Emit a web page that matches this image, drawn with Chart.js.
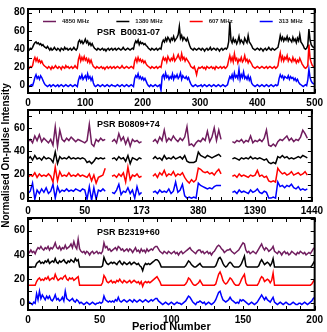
<!DOCTYPE html>
<html>
<head>
<meta charset="utf-8">
<script src="https://cdn.jsdelivr.net/npm/chart.js@4.4.1/dist/chart.umd.min.js"></script>
<style>
    html, body { margin: 0; padding: 0; background: #fff; }
    #wrap { position: relative; width: 327px; height: 332px; overflow: hidden; }
    canvas { position: absolute; left: 0; }
</style>
</head>
<body>
<div id="wrap">
    <canvas id="c1" width="327" height="106" style="top:0px"></canvas>
    <canvas id="c2" width="327" height="152" style="top:76px"></canvas>
    <canvas id="c3" width="327" height="128" style="top:204px"></canvas>
</div>
<script>
// ---- series names / colours ----
const freqLabels = ['4850 MHz', '1380 MHz', '607 MHz', '313 MHz'];
const freqColors = ['#701c5e', '#000000', '#ff0000', '#0000ff'];

// ---- PSR B0031-07 : one value every 2 periods, 0..500 ----
const p1Step = 2;
const p1Black = [
    40,39,41,40,42,45,47,48,46,47,45,46,44,45,43,42,41,43,41,39,41,39,40,42,40,
    39,41,40,38,41,40,39,42,40,41,39,40,41,39,40,42,40,39,41,48,50,47,49,46,48,
    51,47,49,45,47,44,46,43,41,40,39,41,40,39,40,41,39,40,38,40,41,39,40,41,39,
    40,41,39,40,41,40,39,40,42,40,39,40,41,40,39,40,41,40,46,49,47,50,45,48,46,
    47,45,46,44,43,41,40,39,41,40,39,40,41,39,40,41,40,47,50,48,52,49,53,51,48,
    52,50,54,49,51,53,56,65,52,55,50,53,51,49,52,48,44,41,40,39,41,40,39,40,41,
    40,39,41,40,38,40,41,39,40,42,39,40,41,40,39,41,40,38,40,41,39,40,41,40,42,
    48,70,50,47,52,48,50,46,49,54,47,50,48,46,52,49,47,55,48,46,44,41,40,39,40,
    41,40,39,41,40,38,40,41,39,40,42,40,39,41,40,39,40,41,42,48,55,50,53,49,52,
    50,54,49,52,50,48,53,49,51,47,52,49,56,48,46,44,41,40,41,44,62,50,45,43,42,
    41
];
const p1Red = [
    20,19,21,20,22,28,31,27,30,26,28,25,27,24,22,21,20,19,21,20,18,21,19,20,22,
    20,19,21,20,18,21,20,19,22,20,21,19,20,21,19,20,22,20,19,29,33,27,31,28,32,
    28,30,26,29,25,28,24,21,20,19,21,20,19,20,21,19,20,18,20,21,19,20,21,19,20,
    21,19,20,21,20,19,20,22,20,19,20,21,20,19,20,21,20,19,27,30,26,31,27,29,26,
    28,25,27,24,22,21,20,19,21,20,19,20,21,19,20,21,20,27,31,28,30,26,32,29,27,
    30,28,33,27,29,31,34,30,28,35,29,31,27,30,28,26,24,21,20,19,21,17,12,18,20,
    19,20,21,19,20,18,21,20,19,20,21,19,20,18,21,20,19,20,21,19,20,21,19,20,22,
    28,33,27,31,26,35,28,30,25,29,27,31,26,28,33,27,29,25,28,26,24,21,20,19,20,
    21,20,19,20,21,20,19,20,21,19,20,21,20,19,20,21,19,20,22,30,36,28,32,27,31,
    29,33,27,30,28,26,31,27,29,25,28,26,30,27,24,22,20,19,20,22,45,30,25,22,21,
    20
];
const p1Blue = [
    0,-1,0,1,0,4,9,12,8,10,7,11,9,6,3,1,0,-1,0,1,-1,0,1,0,-1,
    0,1,-1,0,1,0,-1,0,1,0,-1,0,1,0,-1,0,1,0,-1,6,10,8,12,7,9,
    11,7,13,8,10,6,9,3,0,-1,0,1,0,-1,0,1,0,-1,0,1,0,-1,0,1,0,
    0,-1,0,1,0,-1,0,1,0,-1,0,1,0,-1,0,1,0,-1,8,11,9,13,8,10,7,
    9,6,8,5,2,0,-1,1,0,-1,0,1,0,-1,0,1,-5,10,12,8,14,9,11,7,10,
    8,13,7,11,9,12,8,10,14,7,11,9,8,10,7,9,5,2,0,-1,0,1,0,-1,0,
    0,1,-1,0,1,0,-1,0,1,0,-1,0,1,0,-1,0,1,0,-1,0,1,0,-1,0,1,
    6,10,8,12,7,14,9,11,8,18,7,12,9,15,8,10,7,11,6,9,3,1,0,-1,0,
    1,0,-1,0,1,0,-1,0,1,0,-1,0,1,0,-1,0,1,0,1,8,12,9,11,7,10,
    9,8,11,7,10,8,9,6,8,5,7,4,2,1,0,-1,0,1,0,6,18,9,5,3,2,
    2
];

// ---- PSR B0809+74 : broken axis, 4 segments, one value every 2 units ----
const p2SegStarts = [0, 74, 110, 180];
const p2SegLengths = [35, 14, 31, 34];
const p2TickLabels = ['0', '50', '173', '380', '1390', '1440'];
const p2Purple = [
    48,50,47,53,49,54,48,51,49,47,50,45,61,44,58,50,48,51,49,52,50,48,50,49,48,47,49,63,46,44,50,48,51,49,50,
    48,50,47,55,49,52,46,51,44,50,48,49,47,48,
    48,50,47,52,49,58,48,51,49,53,50,48,51,49,52,61,45,46,44,47,49,48,51,49,57,48,52,60,49,58,50,
    48,47,49,48,50,47,49,48,53,47,49,48,50,48,51,58,45,44,46,44,48,50,49,51,53,49,51,48,50,49,52,58,55,51
];
const p2Black = [
    33,35,32,36,33,34,32,35,33,34,33,30,39,29,35,33,34,33,35,33,34,33,34,33,34,33,30,31,29,31,34,33,34,33,34,
    33,34,32,35,33,34,31,36,29,34,33,32,34,33,
    33,35,33,34,32,36,33,34,33,35,33,34,35,33,36,31,30,30,30,31,39,36,35,34,36,35,34,35,36,37,35,
    33,34,33,32,34,33,34,33,35,33,34,33,34,33,32,33,30,29,30,29,35,34,36,34,35,33,34,33,34,35,34,36,35,34
];
const p2Red = [
    17,19,18,21,17,20,18,19,18,20,18,13,26,14,22,18,19,18,21,18,19,18,20,18,19,18,17,20,14,19,12,17,18,19,25,
    18,19,17,20,18,21,13,26,15,19,18,20,17,18,
    18,20,17,21,19,23,18,20,19,22,18,20,19,21,17,14,12,15,13,15,25,24,22,21,22,20,21,19,22,24,20,
    18,19,17,20,18,19,18,17,19,18,19,23,18,19,17,18,14,13,14,13,25,22,20,21,19,20,22,19,20,21,19,20,22,19
];
const p2Blue = [
    3,5,12,-2,6,3,7,4,8,3,5,11,-1,9,4,6,5,7,5,6,5,7,6,5,7,6,-2,9,-3,8,-2,6,5,7,5,
    4,3,6,11,2,5,4,8,3,6,-1,9,2,4,
    4,5,3,6,4,5,4,7,3,5,13,4,6,11,1,-1,0,-1,0,-1,12,10,9,8,7,8,7,9,10,10,10,
    4,5,3,6,4,5,4,3,6,4,5,7,4,3,5,4,-1,-1,0,-1,13,9,10,8,10,9,11,8,7,9,6,7,6,7
];

// ---- PSR B2319+60 : periods 0..200 ----
const p3Step = 1;
const p3Purple = [
    43,42,44,42,43,41,44,46,45,47, 45,44,46,45,47,44,46,45,47,50,
    46,45,47,44,46,45,48,45,46,47, 49,46,51,47,45,53,45,43,42,43,
    41,43,42,40,42,43,41,42,43,41, 42,41,43,50,46,47,44,45,43,44,
    45,46,44,47,46,44,45,43,44,45, 43,45,44,42,44,46,43,44,42,45,
    43,44,42,45,43,44,45,44,46,47, 47,45,43,42,41,43,42,41,43,42,
    41,42,43,41,42,40,42,43,41,42, 43,44,45,46,44,43,42,41,43,44,
    44,42,43,41,42,43,41,42,40,42, 43,45,47,48,47,45,44,42,43,44,
    44,45,43,42,41,42,43,44,46,48, 50,49,44,42,43,41,42,43,42,41,
    43,45,47,49,46,44,46,45,43,44, 45,47,43,42,41,43,42,40,42,43,
    41,42,40,41,43,42,41,40,42,41, 43,42,41,42,40,41,42,41,43,45,
    46
];
const p3Black = [
    30,30,30,30,30,30,33,34,35,33, 34,33,35,34,36,33,34,35,34,37,
    34,33,35,34,35,36,34,33,35,34, 36,35,34,37,35,36,30,30,30,30,
    30,30,30,30,30,30,30,30,30,30, 30,30,31,38,35,33,32,33,34,33,
    34,33,32,34,35,33,32,34,33,32, 33,34,32,33,34,33,32,33,31,30,
    27,31,33,32,33,32,33,34,35,36, 36,35,33,30,30,30,30,30,30,30,
    30,30,30,30,30,30,30,30,30,30, 31,33,35,34,32,31,30,30,31,32,
    33,31,30,30,30,30,30,30,30,30, 30,31,34,37,38,36,33,31,30,31,
    33,34,33,31,30,30,30,30,31,33, 36,39,31,30,30,30,30,30,30,30,
    30,31,34,36,34,32,33,34,33,31, 33,37,30,30,30,30,30,30,30,30,
    30,30,30,30,30,30,30,30,30,30, 30,30,30,30,30,30,30,30,31,33,
    35
];
const p3Red = [
    15,15,15,15,15,15,18,20,21,19, 20,19,21,20,22,19,20,21,20,24,
    21,19,20,21,20,22,23,20,19,21, 20,21,19,20,21,22,15,15,15,15,
    15,15,15,15,15,15,15,15,15,15, 15,15,17,23,21,18,17,18,19,17,
    18,17,19,18,20,18,17,19,18,17, 18,19,17,18,19,18,17,18,16,18,
    14,17,18,17,18,17,18,19,20,21, 22,20,18,15,15,15,15,15,15,15,
    15,15,15,15,15,15,15,15,15,15, 16,18,21,20,18,16,15,15,16,17,
    19,17,15,15,15,15,15,15,15,15, 15,16,20,24,26,23,19,17,16,17,
    19,21,20,18,16,15,15,15,17,20, 22,24,17,15,15,15,15,15,15,15,
    15,17,20,22,21,18,19,20,19,17, 19,25,15,15,15,15,15,15,15,15,
    15,15,15,15,15,15,15,15,15,15, 15,15,15,15,15,15,15,15,16,18,
    20
];
const p3Blue = [
    0,1,0,-1,1,0,8,3,10,4, 7,5,3,6,4,6,3,2,4,7,
    3,4,2,3,5,2,10,4,3,2, 3,4,2,1,3,2,0,1,0,-1,
    0,1,0,-1,0,1,0,-1,0,0, 1,0,1,6,3,2,1,2,1,2,
    1,3,2,5,2,1,2,3,2,1, 2,3,2,1,3,2,1,2,3,2,
    1,2,3,2,1,2,3,2,3,4, 4,2,1,0,-1,0,1,0,-1,0,
    1,0,-1,0,1,0,0,-1,0,1, 2,4,6,5,3,1,0,-1,1,1,
    2,1,0,1,-1,0,1,0,-1,0, 1,3,6,9,10,6,3,2,1,2,
    3,5,3,2,1,0,1,0,3,2, 3,2,1,0,-1,0,1,0,-1,0,
    1,3,5,7,5,3,5,3,2,1, 3,5,1,0,-1,0,1,0,-1,0,
    1,0,-1,-1,0,1,0,-1,-1,0, 0,-1,0,1,0,-1,0,1,2,4,
    5
];

Chart.defaults.font.family = '"Liberation Sans", Arial, sans-serif';
Chart.defaults.color = '#000';

function stepPoints(vals, step) {
    return vals.map((v, i) => ({x: i * step, y: v}));
}

function segPoints(vals) {
    const pts = [];
    let k = 0;
    p2SegStarts.forEach((s, j) => {
        for (let i = 0; i < p2SegLengths[j]; i++) pts.push({x: s + 2 * i, y: vals[k++]});
        pts.push({x: s + 2 * p2SegLengths[j], y: null});
    });
    return pts;
}

function series(idx, data) {
    return {label: freqLabels[idx], data: data, borderColor: freqColors[idx], borderWidth: 1.5,
            pointRadius: 0, tension: 0, fill: false};
}

// frame, inward ticks, pulsar name and (first panel) legend inside the box
const framePlugin = {
    id: 'frame',
    afterDatasetsDraw(chart) {
        const {ctx, chartArea: a, scales: {x, y}} = chart;
        const o = chart.options.plugins.frame;
        ctx.save();
        ctx.strokeStyle = '#000';
        ctx.lineWidth = 1;
        ctx.beginPath();
        x.ticks.forEach(t => {
            const px = Math.round(x.getPixelForValue(t.value)) + 0.5;
            ctx.moveTo(px, a.bottom); ctx.lineTo(px, a.bottom - 4);
            ctx.moveTo(px, a.top); ctx.lineTo(px, a.top + 4);
        });
        y.ticks.forEach(t => {
            const py = Math.round(y.getPixelForValue(t.value)) + 0.5;
            ctx.moveTo(a.left, py); ctx.lineTo(a.left + 4, py);
            ctx.moveTo(a.right, py); ctx.lineTo(a.right - 4, py);
        });
        ctx.stroke();
        ctx.lineWidth = 2;
        ctx.strokeRect(a.left, a.top, a.right - a.left, a.bottom - a.top);

        ctx.fillStyle = '#000';
        ctx.font = 'bold 9px "Liberation Sans", Arial, sans-serif';
        ctx.textBaseline = 'alphabetic';
        ctx.fillText(o.name, a.left + 69, a.top + o.nameY);

        if (o.legend) {
            let lx = a.left + 15;
            const ly = a.top + 12.5;
            ctx.font = 'bold 6px "Liberation Sans", Arial, sans-serif';
            ctx.textBaseline = 'middle';
            chart.data.datasets.forEach(ds => {
                ctx.strokeStyle = ds.borderColor;
                ctx.lineWidth = 1.5;
                ctx.beginPath();
                ctx.moveTo(lx, ly); ctx.lineTo(lx + 13, ly);
                ctx.stroke();
                ctx.fillStyle = '#222';
                ctx.fillText(ds.label, lx + 19, ly);
                lx += 19 + ctx.measureText(ds.label).width + 27;
            });
        }
        ctx.restore();
    }
};

const tickFont = {size: 10, weight: 'bold'};

function makePanel(id, datasets, o) {
    return new Chart(document.getElementById(id), {
        type: 'line',
        data: {datasets: datasets},
        options: {
            responsive: false,
            animation: false,
            layout: {padding: o.padding},
            plugins: {
                legend: {display: false},
                tooltip: {enabled: false},
                frame: {name: o.name, nameY: o.nameY, legend: !!o.legend}
            },
            scales: {
                x: {
                    type: 'linear', min: o.xMin, max: o.xMax,
                    grid: {display: false, drawTicks: false},
                    border: {display: false},
                    ticks: {stepSize: o.xStep, autoSkip: false, maxRotation: 0, padding: 4,
                            font: tickFont, color: '#000', callback: o.xLabel},
                    title: o.xTitle ? {display: true, text: o.xTitle, color: '#000',
                            font: {size: 11, weight: 'bold', lineHeight: 1}, padding: {top: 0, bottom: 0}}
                          : {display: false},
                    afterFit: s => { s.height = o.xHeight; }
                },
                y: {
                    min: o.yMin, max: o.yMax,
                    grid: {display: false, drawTicks: false},
                    border: {display: false},
                    ticks: {stepSize: 10, autoSkip: false, includeBounds: false, padding: 3,
                            font: tickFont, color: '#000',
                            callback: v => (v % 20 === 0 ? v : '')},
                    title: o.yTitle ? {display: true, text: o.yTitle, color: '#000',
                            font: {size: 10, weight: 'bold'}, padding: {top: 0, bottom: 0}}
                          : {display: false},
                    afterFit: s => { s.width = 28; }
                }
            }
        },
        plugins: [framePlugin]
    });
}

makePanel('c1', [
    series(0, []),
    series(1, stepPoints(p1Black, p1Step)),
    series(2, stepPoints(p1Red, p1Step)),
    series(3, stepPoints(p1Blue, p1Step))
], {
    padding: {top: 2, right: 11, left: 0, bottom: 0},
    name: 'PSR  B0031-07', nameY: 26, legend: true,
    xMin: 0, xMax: 500, xStep: 20, xHeight: 13,
    xLabel: v => (v % 100 === 0 ? v : ''),
    yMin: -8, yMax: 84
});

makePanel('c2', [
    series(0, segPoints(p2Purple)),
    series(1, segPoints(p2Black)),
    series(2, segPoints(p2Red)),
    series(3, segPoints(p2Blue))
], {
    padding: {top: 34, right: 12, left: 0, bottom: 14},
    name: 'PSR B0809+74', nameY: 17,
    xMin: 0, xMax: 250, xStep: 10, xHeight: 13,
    xLabel: v => (v % 50 === 0 ? p2TickLabels[v / 50] : ''),
    yMin: -3.5, yMax: 75.5,
    yTitle: 'Normalised On-pulse Intensity'
});

makePanel('c3', [
    series(0, stepPoints(p3Purple, p3Step)),
    series(1, stepPoints(p3Black, p3Step)),
    series(2, stepPoints(p3Red, p3Step)),
    series(3, stepPoints(p3Blue, p3Step))
], {
    padding: {top: 14, right: 12, left: 0, bottom: 0},
    name: 'PSR B2319+60', nameY: 17,
    xMin: 0, xMax: 200, xStep: 10, xHeight: 22,
    xLabel: v => (v % 50 === 0 ? v : ''),
    yMin: -5.5, yMax: 70.5,
    xTitle: 'Period Number'
});
</script>
</body>
</html>
